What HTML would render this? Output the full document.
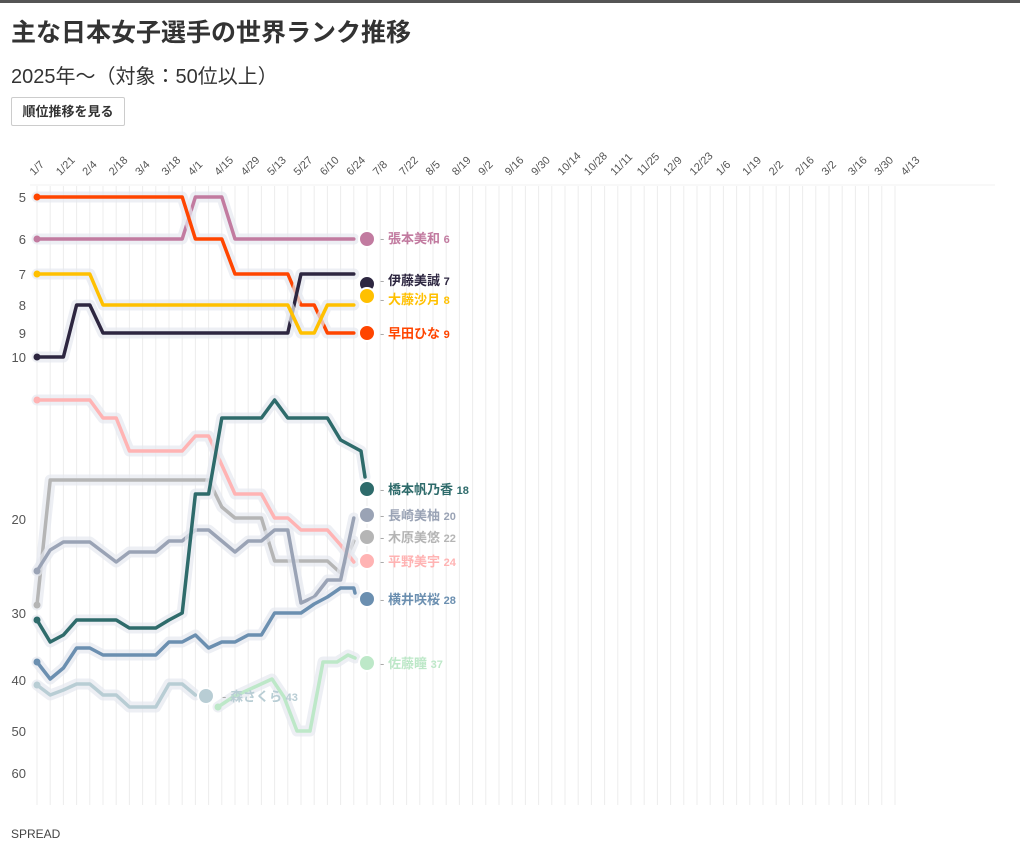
<!DOCTYPE html>
<html><head><meta charset="utf-8"><style>
body{margin:0;width:1020px;height:854px;background:#fff;font-family:"Liberation Sans","Noto Sans CJK JP",sans-serif;overflow:hidden;position:relative}
.top{position:absolute;left:0;top:0;width:1020px;height:3px;background:#555}
h1{position:absolute;left:11px;top:13px;margin:0;font-size:25px;font-weight:bold;color:#333}
.sub{position:absolute;left:11px;top:60px;font-size:20px;color:#333}
.btn{position:absolute;left:11px;top:97px;width:112px;height:27px;border:1px solid #ccc;border-radius:2px;font-size:13px;font-weight:bold;line-height:27px;text-align:center;color:#333}
.ft{position:absolute;left:11px;top:827px;font-size:12px;color:#444}
svg{position:absolute;left:0;top:0}
</style></head><body>
<div class="top"></div>
<h1>主な日本女子選手の世界ランク推移</h1>
<div class="sub">2025年〜（対象：50位以上）</div>
<div class="btn">順位推移を見る</div>
<div class="ft">SPREAD</div>
<svg width="1020" height="854" xmlns="http://www.w3.org/2000/svg" font-family="Liberation Sans, Noto Sans CJK JP, sans-serif">
<g id="grid" stroke="#ececec" stroke-width="1"></g>
<line x1="30" y1="185" x2="995" y2="185" stroke="#f0f0f0"/>
<g id="xl" font-size="11" fill="#555"></g>
<g font-size="13" fill="#555" text-anchor="end">
<text x="26" y="202">5</text><text x="26" y="244">6</text><text x="26" y="279">7</text><text x="26" y="310">8</text><text x="26" y="338">9</text><text x="26" y="362">10</text><text x="26" y="524">20</text><text x="26" y="618">30</text><text x="26" y="685">40</text><text x="26" y="736">50</text><text x="26" y="778">60</text>
</g>
<g id="lines" fill="none" stroke-linejoin="round" stroke-linecap="round"></g>
<g font-size="13" font-weight="bold">
<text x="380" y="243" fill="#c27ba0"><tspan fill="#aaa" font-weight="normal">- </tspan>張本美和 <tspan font-size="11">6</tspan></text>
<text x="380" y="285" fill="#2d2640"><tspan fill="#aaa" font-weight="normal">- </tspan>伊藤美誠 <tspan font-size="11">7</tspan></text>
<text x="380" y="304" fill="#ffc000"><tspan fill="#aaa" font-weight="normal">- </tspan>大藤沙月 <tspan font-size="11">8</tspan></text>
<text x="380" y="338" fill="#ff4500"><tspan fill="#aaa" font-weight="normal">- </tspan>早田ひな <tspan font-size="11">9</tspan></text>
<text x="380" y="494" fill="#2e6b6b"><tspan fill="#aaa" font-weight="normal">- </tspan>橋本帆乃香 <tspan font-size="11">18</tspan></text>
<text x="380" y="520" fill="#9aa3b5"><tspan fill="#aaa" font-weight="normal">- </tspan>長崎美柚 <tspan font-size="11">20</tspan></text>
<text x="380" y="542" fill="#b5b5b5"><tspan fill="#aaa" font-weight="normal">- </tspan>木原美悠 <tspan font-size="11">22</tspan></text>
<text x="380" y="566" fill="#ffb3b3"><tspan fill="#aaa" font-weight="normal">- </tspan>平野美宇 <tspan font-size="11">24</tspan></text>
<text x="380" y="604" fill="#6b8fb0"><tspan fill="#aaa" font-weight="normal">- </tspan>横井咲桜 <tspan font-size="11">28</tspan></text>
<text x="380" y="668" fill="#bde8c8"><tspan fill="#aaa" font-weight="normal">- </tspan>佐藤瞳 <tspan font-size="11">37</tspan></text>
<text x="222" y="701" fill="#b8cdd4"><tspan fill="#aaa" font-weight="normal">- </tspan>森さくら <tspan font-size="11">43</tspan></text>
</g>
</svg>
<script>
const NS="http://www.w3.org/2000/svg";
const g=document.getElementById('grid');
for(let i=0;i<66;i++){const x=37+i*13.2;const l=document.createElementNS(NS,'line');l.setAttribute('x1',x);l.setAttribute('x2',x);l.setAttribute('y1',186);l.setAttribute('y2',805);g.appendChild(l);}
const labs="1/7 1/21 2/4 2/18 3/4 3/18 4/1 4/15 4/29 5/13 5/27 6/10 6/24 7/8 7/22 8/5 8/19 9/2 9/16 9/30 10/14 10/28 11/11 11/25 12/9 12/23 1/6 1/19 2/2 2/16 3/2 3/16 3/30 4/13".split(' ');
const xl=document.getElementById('xl');
labs.forEach((t,k)=>{const x=37+k*26.4;const e=document.createElementNS(NS,'text');e.setAttribute('transform',`translate(${x-3},176) rotate(-45)`);e.textContent=t;xl.appendChild(e);});
const Y={5:197,6:239,7:274,8:305,9:333,10:357};
const X=i=>37+i*13.2;
function r(arr){return arr.map((v,i)=>[X(i),Y[v]]);}
function rep(v,n){return Array(n).fill(v);}
const S=[
{c:"#b8cdd4",p:[685,695,690,684,684,695,695,707,707,707,684,684,695].map((y,i)=>[X(i),y]),d:[206,696]},
{c:"#bde8c8",p:[[218,707],[233,697],[272,679],[284,697],[297,731],[310,731],[323,662],[337,662],[348,655],[355,658]],d:[367,663]},
{c:"#b5b5b5",p:[605,480,480,480,480,480,480,480,480,480,480,480,480,480,507,518,518,518,561,561,561,561,561,573,541].map((y,i)=>[X(i),y]),d:[367,537]},
{c:"#ffb3b3",p:[400,400,400,400,400,418,418,451,451,451,451,451,436,436,465,494,494,494,518,518,530,530,530,545,562].map((y,i)=>[X(i),y]),d:[367,561]},
{c:"#9aa3b5",p:[571,550,542,542,542,552,562,552,552,552,541,541,530,530,541,552,541,541,530,530,603,597,580,580,518].map((y,i)=>[X(i),y]),d:[367,515]},
{c:"#6b8fb0",p:[662,679,668,648,648,655,655,655,655,655,642,642,635,648,642,642,635,635,613,613,613,604,597,588,588].map((y,i)=>[X(i),y]).concat([[355,593]]),d:[367,599]},
{c:"#2e6b6b",p:[620,642,635,620,620,620,620,628,628,628,620,613,494,494,418,418,418,418,400,418,418,418,418,440].map((y,i)=>[X(i),y]).concat([[361,451],[365,477]]),d:[367,489]},
{c:"#c27ba0",p:r(rep(6,12).concat(rep(5,3),rep(6,10))),d:[367,239]},
{c:"#ff4500",p:r(rep(5,12).concat(rep(6,3),rep(7,5),rep(8,2),rep(9,3))),d:[367,333]},
{c:"#2d2640",p:r(rep(10,3).concat(rep(8,2),rep(9,15),rep(7,5))),d:[367,284]},
{c:"#ffc000",p:r(rep(7,5).concat(rep(8,15),rep(9,2),rep(8,3))),d:[367,296]},
];
const L=document.getElementById('lines');
S.forEach(s=>{const pts=s.p.map(q=>q.join(',')).join(' ');
 const h=document.createElementNS(NS,'polyline');h.setAttribute('points',pts);h.setAttribute('stroke','#e6e8f0');h.setAttribute('stroke-opacity','0.7');h.setAttribute('stroke-width','11');L.appendChild(h);
 const l=document.createElementNS(NS,'polyline');l.setAttribute('points',pts);l.setAttribute('stroke',s.c);l.setAttribute('stroke-width','3.5');L.appendChild(l);
 const c0=document.createElementNS(NS,'circle');c0.setAttribute('cx',s.p[0][0]);c0.setAttribute('cy',s.p[0][1]);c0.setAttribute('r',3.5);c0.setAttribute('fill',s.c);L.appendChild(c0);
 const c=document.createElementNS(NS,'circle');c.setAttribute('cx',s.d[0]);c.setAttribute('cy',s.d[1]);c.setAttribute('r',8);c.setAttribute('fill',s.c);c.setAttribute('stroke','#fff');c.setAttribute('stroke-width','2');L.appendChild(c);
});
</script>
</body></html>
